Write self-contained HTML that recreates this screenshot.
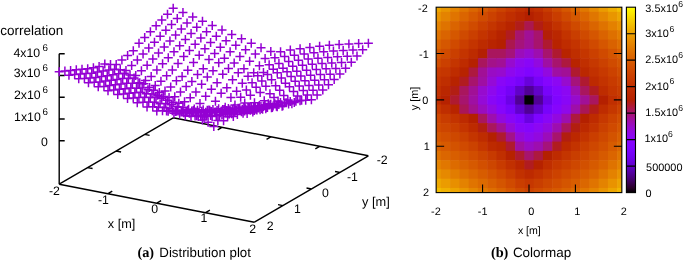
<!DOCTYPE html>
<html><head><meta charset="utf-8"><style>
html,body{margin:0;padding:0;background:#fff;}
svg{display:block;}
#t{position:absolute;left:0;top:0;will-change:transform;text-rendering:geometricPrecision;}
</style></head><body>
<svg width="685" height="260" viewBox="0 0 685 260">
<rect width="685" height="260" fill="#fff"/>
<g><rect x="436.15" y="7.20" width="5.24" height="5.24" fill="#eda600"/>
<rect x="440.79" y="7.20" width="9.89" height="5.24" fill="#e99500"/>
<rect x="450.08" y="7.20" width="9.88" height="5.24" fill="#e58400"/>
<rect x="459.36" y="7.20" width="9.89" height="5.24" fill="#e07500"/>
<rect x="468.65" y="7.20" width="9.89" height="5.24" fill="#db6700"/>
<rect x="477.93" y="7.20" width="9.88" height="5.24" fill="#d65a00"/>
<rect x="487.22" y="7.20" width="9.89" height="5.24" fill="#d14e00"/>
<rect x="496.50" y="7.20" width="9.89" height="5.24" fill="#cc4300"/>
<rect x="505.79" y="7.20" width="9.88" height="5.24" fill="#c73900"/>
<rect x="515.07" y="7.20" width="9.88" height="5.24" fill="#c13000"/>
<rect x="524.36" y="7.20" width="9.89" height="5.24" fill="#bd2a00"/>
<rect x="533.64" y="7.20" width="9.88" height="5.24" fill="#c13000"/>
<rect x="542.93" y="7.20" width="9.88" height="5.24" fill="#c83c00"/>
<rect x="552.21" y="7.20" width="9.88" height="5.24" fill="#cf4a00"/>
<rect x="561.50" y="7.20" width="9.89" height="5.24" fill="#d65800"/>
<rect x="570.78" y="7.20" width="9.88" height="5.24" fill="#dc6800"/>
<rect x="580.07" y="7.20" width="9.88" height="5.24" fill="#e17900"/>
<rect x="589.35" y="7.20" width="9.89" height="5.24" fill="#e68a00"/>
<rect x="598.64" y="7.20" width="9.88" height="5.24" fill="#eb9c00"/>
<rect x="607.92" y="7.20" width="9.88" height="5.24" fill="#efad00"/>
<rect x="617.21" y="7.20" width="4.64" height="5.24" fill="#f3bf00"/>
<rect x="436.15" y="11.84" width="5.24" height="9.87" fill="#e99400"/>
<rect x="440.79" y="11.84" width="9.89" height="9.87" fill="#e48300"/>
<rect x="450.08" y="11.84" width="9.88" height="9.87" fill="#e07400"/>
<rect x="459.36" y="11.84" width="9.89" height="9.87" fill="#db6500"/>
<rect x="468.65" y="11.84" width="9.89" height="9.87" fill="#d65800"/>
<rect x="477.93" y="11.84" width="9.88" height="9.87" fill="#d04c00"/>
<rect x="487.22" y="11.84" width="9.89" height="9.87" fill="#cb4100"/>
<rect x="496.50" y="11.84" width="9.89" height="9.87" fill="#c53700"/>
<rect x="505.79" y="11.84" width="9.88" height="9.87" fill="#c02e00"/>
<rect x="515.07" y="11.84" width="9.88" height="9.87" fill="#ba2700"/>
<rect x="524.36" y="11.84" width="9.89" height="9.87" fill="#b42000"/>
<rect x="533.64" y="11.84" width="9.88" height="9.87" fill="#ba2700"/>
<rect x="542.93" y="11.84" width="9.88" height="9.87" fill="#c13100"/>
<rect x="552.21" y="11.84" width="9.88" height="9.87" fill="#c93d00"/>
<rect x="561.50" y="11.84" width="9.89" height="9.87" fill="#cf4a00"/>
<rect x="570.78" y="11.84" width="9.88" height="9.87" fill="#d55800"/>
<rect x="580.07" y="11.84" width="9.88" height="9.87" fill="#db6600"/>
<rect x="589.35" y="11.84" width="9.89" height="9.87" fill="#e07600"/>
<rect x="598.64" y="11.84" width="9.88" height="9.87" fill="#e58600"/>
<rect x="607.92" y="11.84" width="9.88" height="9.87" fill="#e99600"/>
<rect x="617.21" y="11.84" width="4.64" height="9.87" fill="#eda600"/>
<rect x="436.15" y="21.11" width="5.24" height="9.87" fill="#e48300"/>
<rect x="440.79" y="21.11" width="9.89" height="9.87" fill="#df7300"/>
<rect x="450.08" y="21.11" width="9.88" height="9.87" fill="#da6400"/>
<rect x="459.36" y="21.11" width="9.89" height="9.87" fill="#d55700"/>
<rect x="468.65" y="21.11" width="9.89" height="9.87" fill="#d04b00"/>
<rect x="477.93" y="21.11" width="9.88" height="9.87" fill="#ca3f00"/>
<rect x="487.22" y="21.11" width="9.89" height="9.87" fill="#c43500"/>
<rect x="496.50" y="21.11" width="9.89" height="9.87" fill="#be2c00"/>
<rect x="505.79" y="21.11" width="9.88" height="9.87" fill="#b82400"/>
<rect x="515.07" y="21.11" width="9.88" height="9.87" fill="#b11d1b"/>
<rect x="524.36" y="21.11" width="9.89" height="9.87" fill="#ab174f"/>
<rect x="533.64" y="21.11" width="9.88" height="9.87" fill="#b21d15"/>
<rect x="542.93" y="21.11" width="9.88" height="9.87" fill="#ba2600"/>
<rect x="552.21" y="21.11" width="9.88" height="9.87" fill="#c23200"/>
<rect x="561.50" y="21.11" width="9.89" height="9.87" fill="#c93d00"/>
<rect x="570.78" y="21.11" width="9.88" height="9.87" fill="#cf4a00"/>
<rect x="580.07" y="21.11" width="9.88" height="9.87" fill="#d55700"/>
<rect x="589.35" y="21.11" width="9.89" height="9.87" fill="#da6500"/>
<rect x="598.64" y="21.11" width="9.88" height="9.87" fill="#df7300"/>
<rect x="607.92" y="21.11" width="9.88" height="9.87" fill="#e48100"/>
<rect x="617.21" y="21.11" width="4.64" height="9.87" fill="#e89000"/>
<rect x="436.15" y="30.37" width="5.24" height="9.87" fill="#df7300"/>
<rect x="440.79" y="30.37" width="9.89" height="9.87" fill="#da6400"/>
<rect x="450.08" y="30.37" width="9.88" height="9.87" fill="#d55700"/>
<rect x="459.36" y="30.37" width="9.89" height="9.87" fill="#cf4a00"/>
<rect x="468.65" y="30.37" width="9.89" height="9.87" fill="#ca3f00"/>
<rect x="477.93" y="30.37" width="9.88" height="9.87" fill="#c43400"/>
<rect x="487.22" y="30.37" width="9.89" height="9.87" fill="#be2b00"/>
<rect x="496.50" y="30.37" width="9.89" height="9.87" fill="#b72300"/>
<rect x="505.79" y="30.37" width="9.88" height="9.87" fill="#b11c20"/>
<rect x="515.07" y="30.37" width="9.88" height="9.87" fill="#a7146d"/>
<rect x="524.36" y="30.37" width="9.89" height="9.87" fill="#a11096"/>
<rect x="533.64" y="30.37" width="9.88" height="9.87" fill="#a7146d"/>
<rect x="542.93" y="30.37" width="9.88" height="9.87" fill="#b41f06"/>
<rect x="552.21" y="30.37" width="9.88" height="9.87" fill="#ba2700"/>
<rect x="561.50" y="30.37" width="9.89" height="9.87" fill="#c33300"/>
<rect x="570.78" y="30.37" width="9.88" height="9.87" fill="#c93e00"/>
<rect x="580.07" y="30.37" width="9.88" height="9.87" fill="#cf4a00"/>
<rect x="589.35" y="30.37" width="9.89" height="9.87" fill="#d55600"/>
<rect x="598.64" y="30.37" width="9.88" height="9.87" fill="#da6300"/>
<rect x="607.92" y="30.37" width="9.88" height="9.87" fill="#de7000"/>
<rect x="617.21" y="30.37" width="4.64" height="9.87" fill="#e37d00"/>
<rect x="436.15" y="39.65" width="5.24" height="9.87" fill="#db6500"/>
<rect x="440.79" y="39.65" width="9.89" height="9.87" fill="#d55700"/>
<rect x="450.08" y="39.65" width="9.88" height="9.87" fill="#d04a00"/>
<rect x="459.36" y="39.65" width="9.89" height="9.87" fill="#ca3e00"/>
<rect x="468.65" y="39.65" width="9.89" height="9.87" fill="#c43400"/>
<rect x="477.93" y="39.65" width="9.88" height="9.87" fill="#bd2b00"/>
<rect x="487.22" y="39.65" width="9.89" height="9.87" fill="#b82400"/>
<rect x="496.50" y="39.65" width="9.89" height="9.87" fill="#b42000"/>
<rect x="505.79" y="39.65" width="9.88" height="9.87" fill="#ab174f"/>
<rect x="515.07" y="39.65" width="9.88" height="9.87" fill="#a5137b"/>
<rect x="524.36" y="39.65" width="9.89" height="9.87" fill="#a11096"/>
<rect x="533.64" y="39.65" width="9.88" height="9.87" fill="#a7146d"/>
<rect x="542.93" y="39.65" width="9.88" height="9.87" fill="#af1a30"/>
<rect x="552.21" y="39.65" width="9.88" height="9.87" fill="#b82300"/>
<rect x="561.50" y="39.65" width="9.89" height="9.87" fill="#bf2c00"/>
<rect x="570.78" y="39.65" width="9.88" height="9.87" fill="#c43400"/>
<rect x="580.07" y="39.65" width="9.88" height="9.87" fill="#ca3f00"/>
<rect x="589.35" y="39.65" width="9.89" height="9.87" fill="#d04a00"/>
<rect x="598.64" y="39.65" width="9.88" height="9.87" fill="#d55600"/>
<rect x="607.92" y="39.65" width="9.88" height="9.87" fill="#d96200"/>
<rect x="617.21" y="39.65" width="4.64" height="9.87" fill="#de6e00"/>
<rect x="436.15" y="48.91" width="5.24" height="9.87" fill="#d65800"/>
<rect x="440.79" y="48.91" width="9.89" height="9.87" fill="#d04b00"/>
<rect x="450.08" y="48.91" width="9.88" height="9.87" fill="#ca3f00"/>
<rect x="459.36" y="48.91" width="9.89" height="9.87" fill="#c43400"/>
<rect x="468.65" y="48.91" width="9.89" height="9.87" fill="#bd2b00"/>
<rect x="477.93" y="48.91" width="9.88" height="9.87" fill="#b42002"/>
<rect x="487.22" y="48.91" width="9.89" height="9.87" fill="#a9165e"/>
<rect x="496.50" y="48.91" width="9.89" height="9.87" fill="#a9165e"/>
<rect x="505.79" y="48.91" width="9.88" height="9.87" fill="#a5137b"/>
<rect x="515.07" y="48.91" width="9.88" height="9.87" fill="#9b0dba"/>
<rect x="524.36" y="48.91" width="9.89" height="9.87" fill="#970bce"/>
<rect x="533.64" y="48.91" width="9.88" height="9.87" fill="#9d0eaf"/>
<rect x="542.93" y="48.91" width="9.88" height="9.87" fill="#a7146d"/>
<rect x="552.21" y="48.91" width="9.88" height="9.87" fill="#af1a30"/>
<rect x="561.50" y="48.91" width="9.89" height="9.87" fill="#b82400"/>
<rect x="570.78" y="48.91" width="9.88" height="9.87" fill="#bf2e00"/>
<rect x="580.07" y="48.91" width="9.88" height="9.87" fill="#c53600"/>
<rect x="589.35" y="48.91" width="9.89" height="9.87" fill="#cb4000"/>
<rect x="598.64" y="48.91" width="9.88" height="9.87" fill="#d04a00"/>
<rect x="607.92" y="48.91" width="9.88" height="9.87" fill="#d45500"/>
<rect x="617.21" y="48.91" width="4.64" height="9.87" fill="#d96000"/>
<rect x="436.15" y="58.19" width="5.24" height="9.87" fill="#d14d00"/>
<rect x="440.79" y="58.19" width="9.89" height="9.87" fill="#cb4000"/>
<rect x="450.08" y="58.19" width="9.88" height="9.87" fill="#c43500"/>
<rect x="459.36" y="58.19" width="9.89" height="9.87" fill="#be2b00"/>
<rect x="468.65" y="58.19" width="9.89" height="9.87" fill="#b52100"/>
<rect x="477.93" y="58.19" width="9.88" height="9.87" fill="#a9165e"/>
<rect x="487.22" y="58.19" width="9.89" height="9.87" fill="#a31289"/>
<rect x="496.50" y="58.19" width="9.89" height="9.87" fill="#a11096"/>
<rect x="505.79" y="58.19" width="9.88" height="9.87" fill="#970bce"/>
<rect x="515.07" y="58.19" width="9.88" height="9.87" fill="#8e08ed"/>
<rect x="524.36" y="58.19" width="9.89" height="9.87" fill="#8906f7"/>
<rect x="533.64" y="58.19" width="9.88" height="9.87" fill="#9209df"/>
<rect x="542.93" y="58.19" width="9.88" height="9.87" fill="#9f0fa3"/>
<rect x="552.21" y="58.19" width="9.88" height="9.87" fill="#a7146d"/>
<rect x="561.50" y="58.19" width="9.89" height="9.87" fill="#ad193f"/>
<rect x="570.78" y="58.19" width="9.88" height="9.87" fill="#b82400"/>
<rect x="580.07" y="58.19" width="9.88" height="9.87" fill="#c02f00"/>
<rect x="589.35" y="58.19" width="9.89" height="9.87" fill="#c63800"/>
<rect x="598.64" y="58.19" width="9.88" height="9.87" fill="#cb4100"/>
<rect x="607.92" y="58.19" width="9.88" height="9.87" fill="#d04b00"/>
<rect x="617.21" y="58.19" width="4.64" height="9.87" fill="#d45500"/>
<rect x="436.15" y="67.45" width="5.24" height="9.87" fill="#c83b00"/>
<rect x="440.79" y="67.45" width="9.89" height="9.87" fill="#c53600"/>
<rect x="450.08" y="67.45" width="9.88" height="9.87" fill="#be2c00"/>
<rect x="459.36" y="67.45" width="9.89" height="9.87" fill="#b72300"/>
<rect x="468.65" y="67.45" width="9.89" height="9.87" fill="#ad193f"/>
<rect x="477.93" y="67.45" width="9.88" height="9.87" fill="#a11096"/>
<rect x="487.22" y="67.45" width="9.89" height="9.87" fill="#990cc4"/>
<rect x="496.50" y="67.45" width="9.89" height="9.87" fill="#970bce"/>
<rect x="505.79" y="67.45" width="9.88" height="9.87" fill="#8e08ed"/>
<rect x="515.07" y="67.45" width="9.88" height="9.87" fill="#8706fa"/>
<rect x="524.36" y="67.45" width="9.89" height="9.87" fill="#8004ff"/>
<rect x="533.64" y="67.45" width="9.88" height="9.87" fill="#8706fa"/>
<rect x="542.93" y="67.45" width="9.88" height="9.87" fill="#9209df"/>
<rect x="552.21" y="67.45" width="9.88" height="9.87" fill="#9f0fa3"/>
<rect x="561.50" y="67.45" width="9.89" height="9.87" fill="#a11096"/>
<rect x="570.78" y="67.45" width="9.88" height="9.87" fill="#af1a30"/>
<rect x="580.07" y="67.45" width="9.88" height="9.87" fill="#bb2800"/>
<rect x="589.35" y="67.45" width="9.89" height="9.87" fill="#c23100"/>
<rect x="598.64" y="67.45" width="9.88" height="9.87" fill="#c73900"/>
<rect x="607.92" y="67.45" width="9.88" height="9.87" fill="#cc4200"/>
<rect x="617.21" y="67.45" width="4.64" height="9.87" fill="#d04c00"/>
<rect x="436.15" y="76.72" width="5.24" height="9.87" fill="#c53600"/>
<rect x="440.79" y="76.72" width="9.89" height="9.87" fill="#bf2e00"/>
<rect x="450.08" y="76.72" width="9.88" height="9.87" fill="#b72300"/>
<rect x="459.36" y="76.72" width="9.89" height="9.87" fill="#b11c20"/>
<rect x="468.65" y="76.72" width="9.89" height="9.87" fill="#a7146d"/>
<rect x="477.93" y="76.72" width="9.88" height="9.87" fill="#9f0fa3"/>
<rect x="487.22" y="76.72" width="9.89" height="9.87" fill="#950ad7"/>
<rect x="496.50" y="76.72" width="9.89" height="9.87" fill="#8906f7"/>
<rect x="505.79" y="76.72" width="9.88" height="9.87" fill="#8204fe"/>
<rect x="515.07" y="76.72" width="9.88" height="9.87" fill="#7803fa"/>
<rect x="524.36" y="76.72" width="9.89" height="9.87" fill="#6801db"/>
<rect x="533.64" y="76.72" width="9.88" height="9.87" fill="#7803fa"/>
<rect x="542.93" y="76.72" width="9.88" height="9.87" fill="#8505fd"/>
<rect x="552.21" y="76.72" width="9.88" height="9.87" fill="#8c07f3"/>
<rect x="561.50" y="76.72" width="9.89" height="9.87" fill="#970bce"/>
<rect x="570.78" y="76.72" width="9.88" height="9.87" fill="#a5137b"/>
<rect x="580.07" y="76.72" width="9.88" height="9.87" fill="#af1a30"/>
<rect x="589.35" y="76.72" width="9.89" height="9.87" fill="#bd2a00"/>
<rect x="598.64" y="76.72" width="9.88" height="9.87" fill="#c33300"/>
<rect x="607.92" y="76.72" width="9.88" height="9.87" fill="#c83b00"/>
<rect x="617.21" y="76.72" width="4.64" height="9.87" fill="#cc4400"/>
<rect x="436.15" y="86.00" width="5.24" height="9.87" fill="#c23200"/>
<rect x="440.79" y="86.00" width="9.89" height="9.87" fill="#ba2700"/>
<rect x="450.08" y="86.00" width="9.88" height="9.87" fill="#b21e13"/>
<rect x="459.36" y="86.00" width="9.89" height="9.87" fill="#a9165e"/>
<rect x="468.65" y="86.00" width="9.89" height="9.87" fill="#a11096"/>
<rect x="477.93" y="86.00" width="9.88" height="9.87" fill="#970bce"/>
<rect x="487.22" y="86.00" width="9.89" height="9.87" fill="#8e08ed"/>
<rect x="496.50" y="86.00" width="9.89" height="9.87" fill="#8204fe"/>
<rect x="505.79" y="86.00" width="9.88" height="9.87" fill="#7502f7"/>
<rect x="515.07" y="86.00" width="9.88" height="9.87" fill="#6101c9"/>
<rect x="524.36" y="86.00" width="9.89" height="9.87" fill="#510096"/>
<rect x="533.64" y="86.00" width="9.88" height="9.87" fill="#6101c9"/>
<rect x="542.93" y="86.00" width="9.88" height="9.87" fill="#7803fa"/>
<rect x="552.21" y="86.00" width="9.88" height="9.87" fill="#8505fd"/>
<rect x="561.50" y="86.00" width="9.89" height="9.87" fill="#8c07f3"/>
<rect x="570.78" y="86.00" width="9.88" height="9.87" fill="#9d0eaf"/>
<rect x="580.07" y="86.00" width="9.88" height="9.87" fill="#a9165e"/>
<rect x="589.35" y="86.00" width="9.89" height="9.87" fill="#b11c20"/>
<rect x="598.64" y="86.00" width="9.88" height="9.87" fill="#be2c00"/>
<rect x="607.92" y="86.00" width="9.88" height="9.87" fill="#c53600"/>
<rect x="617.21" y="86.00" width="4.64" height="9.87" fill="#c93d00"/>
<rect x="436.15" y="95.27" width="5.24" height="9.87" fill="#c02e00"/>
<rect x="440.79" y="95.27" width="9.89" height="9.87" fill="#b62200"/>
<rect x="450.08" y="95.27" width="9.88" height="9.87" fill="#af1a30"/>
<rect x="459.36" y="95.27" width="9.89" height="9.87" fill="#a7146d"/>
<rect x="468.65" y="95.27" width="9.89" height="9.87" fill="#9f0fa3"/>
<rect x="477.93" y="95.27" width="9.88" height="9.87" fill="#950ad7"/>
<rect x="487.22" y="95.27" width="9.89" height="9.87" fill="#8906f7"/>
<rect x="496.50" y="95.27" width="9.89" height="9.87" fill="#8004ff"/>
<rect x="505.79" y="95.27" width="9.88" height="9.87" fill="#6c01e7"/>
<rect x="515.07" y="95.27" width="9.88" height="9.87" fill="#510096"/>
<rect x="524.36" y="95.27" width="9.89" height="9.87" fill="#000000"/>
<rect x="533.64" y="95.27" width="9.88" height="9.87" fill="#510096"/>
<rect x="542.93" y="95.27" width="9.88" height="9.87" fill="#6c01e7"/>
<rect x="552.21" y="95.27" width="9.88" height="9.87" fill="#8004ff"/>
<rect x="561.50" y="95.27" width="9.89" height="9.87" fill="#8906f7"/>
<rect x="570.78" y="95.27" width="9.88" height="9.87" fill="#970bce"/>
<rect x="580.07" y="95.27" width="9.88" height="9.87" fill="#a11096"/>
<rect x="589.35" y="95.27" width="9.89" height="9.87" fill="#a9165e"/>
<rect x="598.64" y="95.27" width="9.88" height="9.87" fill="#b42000"/>
<rect x="607.92" y="95.27" width="9.88" height="9.87" fill="#c12f00"/>
<rect x="617.21" y="95.27" width="4.64" height="9.87" fill="#c63700"/>
<rect x="436.15" y="104.53" width="5.24" height="9.87" fill="#c73a00"/>
<rect x="440.79" y="104.53" width="9.89" height="9.87" fill="#bf2e00"/>
<rect x="450.08" y="104.53" width="9.88" height="9.87" fill="#b82400"/>
<rect x="459.36" y="104.53" width="9.89" height="9.87" fill="#aa1656"/>
<rect x="468.65" y="104.53" width="9.89" height="9.87" fill="#a2118f"/>
<rect x="477.93" y="104.53" width="9.88" height="9.87" fill="#9a0cbf"/>
<rect x="487.22" y="104.53" width="9.89" height="9.87" fill="#9109e3"/>
<rect x="496.50" y="104.53" width="9.89" height="9.87" fill="#8605fc"/>
<rect x="505.79" y="104.53" width="9.88" height="9.87" fill="#7803fb"/>
<rect x="515.07" y="104.53" width="9.88" height="9.87" fill="#6201cd"/>
<rect x="524.36" y="104.53" width="9.89" height="9.87" fill="#510096"/>
<rect x="533.64" y="104.53" width="9.88" height="9.87" fill="#6201cd"/>
<rect x="542.93" y="104.53" width="9.88" height="9.87" fill="#7803fb"/>
<rect x="552.21" y="104.53" width="9.88" height="9.87" fill="#8605fc"/>
<rect x="561.50" y="104.53" width="9.89" height="9.87" fill="#8f08ea"/>
<rect x="570.78" y="104.53" width="9.88" height="9.87" fill="#9e0fa9"/>
<rect x="580.07" y="104.53" width="9.88" height="9.87" fill="#aa1656"/>
<rect x="589.35" y="104.53" width="9.89" height="9.87" fill="#b21d18"/>
<rect x="598.64" y="104.53" width="9.88" height="9.87" fill="#be2c00"/>
<rect x="607.92" y="104.53" width="9.88" height="9.87" fill="#c53700"/>
<rect x="617.21" y="104.53" width="4.64" height="9.87" fill="#cc4200"/>
<rect x="436.15" y="113.80" width="5.24" height="9.87" fill="#cf4800"/>
<rect x="440.79" y="113.80" width="9.89" height="9.87" fill="#c83c00"/>
<rect x="450.08" y="113.80" width="9.88" height="9.87" fill="#c33300"/>
<rect x="459.36" y="113.80" width="9.89" height="9.87" fill="#bd2a00"/>
<rect x="468.65" y="113.80" width="9.89" height="9.87" fill="#b42000"/>
<rect x="477.93" y="113.80" width="9.88" height="9.87" fill="#a9165e"/>
<rect x="487.22" y="113.80" width="9.89" height="9.87" fill="#9d0eaf"/>
<rect x="496.50" y="113.80" width="9.89" height="9.87" fill="#9209df"/>
<rect x="505.79" y="113.80" width="9.88" height="9.87" fill="#8906f7"/>
<rect x="515.07" y="113.80" width="9.88" height="9.87" fill="#7e04ff"/>
<rect x="524.36" y="113.80" width="9.89" height="9.87" fill="#6a01e1"/>
<rect x="533.64" y="113.80" width="9.88" height="9.87" fill="#7e04ff"/>
<rect x="542.93" y="113.80" width="9.88" height="9.87" fill="#8906f7"/>
<rect x="552.21" y="113.80" width="9.88" height="9.87" fill="#9209df"/>
<rect x="561.50" y="113.80" width="9.89" height="9.87" fill="#9d0eaf"/>
<rect x="570.78" y="113.80" width="9.88" height="9.87" fill="#ad193f"/>
<rect x="580.07" y="113.80" width="9.88" height="9.87" fill="#b42000"/>
<rect x="589.35" y="113.80" width="9.89" height="9.87" fill="#be2b00"/>
<rect x="598.64" y="113.80" width="9.88" height="9.87" fill="#c63800"/>
<rect x="607.92" y="113.80" width="9.88" height="9.87" fill="#cc4300"/>
<rect x="617.21" y="113.80" width="4.64" height="9.87" fill="#d14e00"/>
<rect x="436.15" y="123.08" width="5.24" height="9.87" fill="#d14c00"/>
<rect x="440.79" y="123.08" width="9.89" height="9.87" fill="#cd4500"/>
<rect x="450.08" y="123.08" width="9.88" height="9.87" fill="#c93e00"/>
<rect x="459.36" y="123.08" width="9.89" height="9.87" fill="#c43400"/>
<rect x="468.65" y="123.08" width="9.89" height="9.87" fill="#bd2a00"/>
<rect x="477.93" y="123.08" width="9.88" height="9.87" fill="#b21e10"/>
<rect x="487.22" y="123.08" width="9.89" height="9.87" fill="#a9165e"/>
<rect x="496.50" y="123.08" width="9.89" height="9.87" fill="#a11096"/>
<rect x="505.79" y="123.08" width="9.88" height="9.87" fill="#950ad7"/>
<rect x="515.07" y="123.08" width="9.88" height="9.87" fill="#8906f7"/>
<rect x="524.36" y="123.08" width="9.89" height="9.87" fill="#8505fc"/>
<rect x="533.64" y="123.08" width="9.88" height="9.87" fill="#8c07f3"/>
<rect x="542.93" y="123.08" width="9.88" height="9.87" fill="#9209df"/>
<rect x="552.21" y="123.08" width="9.88" height="9.87" fill="#9d0eaf"/>
<rect x="561.50" y="123.08" width="9.89" height="9.87" fill="#a9165e"/>
<rect x="570.78" y="123.08" width="9.88" height="9.87" fill="#b21e10"/>
<rect x="580.07" y="123.08" width="9.88" height="9.87" fill="#bc2900"/>
<rect x="589.35" y="123.08" width="9.89" height="9.87" fill="#c33300"/>
<rect x="598.64" y="123.08" width="9.88" height="9.87" fill="#ca4000"/>
<rect x="607.92" y="123.08" width="9.88" height="9.87" fill="#d04a00"/>
<rect x="617.21" y="123.08" width="4.64" height="9.87" fill="#d55600"/>
<rect x="436.15" y="132.34" width="5.24" height="9.87" fill="#d55700"/>
<rect x="440.79" y="132.34" width="9.89" height="9.87" fill="#d24f00"/>
<rect x="450.08" y="132.34" width="9.88" height="9.87" fill="#ce4800"/>
<rect x="459.36" y="132.34" width="9.89" height="9.87" fill="#ca4000"/>
<rect x="468.65" y="132.34" width="9.89" height="9.87" fill="#c43500"/>
<rect x="477.93" y="132.34" width="9.88" height="9.87" fill="#be2c00"/>
<rect x="487.22" y="132.34" width="9.89" height="9.87" fill="#b42000"/>
<rect x="496.50" y="132.34" width="9.89" height="9.87" fill="#af1a30"/>
<rect x="505.79" y="132.34" width="9.88" height="9.87" fill="#a31289"/>
<rect x="515.07" y="132.34" width="9.88" height="9.87" fill="#950ad7"/>
<rect x="524.36" y="132.34" width="9.89" height="9.87" fill="#8e08ed"/>
<rect x="533.64" y="132.34" width="9.88" height="9.87" fill="#9209df"/>
<rect x="542.93" y="132.34" width="9.88" height="9.87" fill="#9b0dba"/>
<rect x="552.21" y="132.34" width="9.88" height="9.87" fill="#a7146d"/>
<rect x="561.50" y="132.34" width="9.89" height="9.87" fill="#b21e10"/>
<rect x="570.78" y="132.34" width="9.88" height="9.87" fill="#bc2800"/>
<rect x="580.07" y="132.34" width="9.88" height="9.87" fill="#c33300"/>
<rect x="589.35" y="132.34" width="9.89" height="9.87" fill="#ca3e00"/>
<rect x="598.64" y="132.34" width="9.88" height="9.87" fill="#ce4800"/>
<rect x="607.92" y="132.34" width="9.88" height="9.87" fill="#d35300"/>
<rect x="617.21" y="132.34" width="4.64" height="9.87" fill="#d85f00"/>
<rect x="436.15" y="141.61" width="5.24" height="9.87" fill="#d96200"/>
<rect x="440.79" y="141.61" width="9.89" height="9.87" fill="#d75a00"/>
<rect x="450.08" y="141.61" width="9.88" height="9.87" fill="#d35200"/>
<rect x="459.36" y="141.61" width="9.89" height="9.87" fill="#d04a00"/>
<rect x="468.65" y="141.61" width="9.89" height="9.87" fill="#cb4200"/>
<rect x="477.93" y="141.61" width="9.88" height="9.87" fill="#c53600"/>
<rect x="487.22" y="141.61" width="9.89" height="9.87" fill="#bd2a00"/>
<rect x="496.50" y="141.61" width="9.89" height="9.87" fill="#ba2600"/>
<rect x="505.79" y="141.61" width="9.88" height="9.87" fill="#af1a30"/>
<rect x="515.07" y="141.61" width="9.88" height="9.87" fill="#9f0fa3"/>
<rect x="524.36" y="141.61" width="9.89" height="9.87" fill="#990cc4"/>
<rect x="533.64" y="141.61" width="9.88" height="9.87" fill="#9d0eaf"/>
<rect x="542.93" y="141.61" width="9.88" height="9.87" fill="#a5137b"/>
<rect x="552.21" y="141.61" width="9.88" height="9.87" fill="#b11c20"/>
<rect x="561.50" y="141.61" width="9.89" height="9.87" fill="#bc2900"/>
<rect x="570.78" y="141.61" width="9.88" height="9.87" fill="#c33300"/>
<rect x="580.07" y="141.61" width="9.88" height="9.87" fill="#c93e00"/>
<rect x="589.35" y="141.61" width="9.89" height="9.87" fill="#ce4700"/>
<rect x="598.64" y="141.61" width="9.88" height="9.87" fill="#d25000"/>
<rect x="607.92" y="141.61" width="9.88" height="9.87" fill="#d75c00"/>
<rect x="617.21" y="141.61" width="4.64" height="9.87" fill="#db6800"/>
<rect x="436.15" y="150.88" width="5.24" height="9.87" fill="#df7200"/>
<rect x="440.79" y="150.88" width="9.89" height="9.87" fill="#db6600"/>
<rect x="450.08" y="150.88" width="9.88" height="9.87" fill="#d85e00"/>
<rect x="459.36" y="150.88" width="9.89" height="9.87" fill="#d55600"/>
<rect x="468.65" y="150.88" width="9.89" height="9.87" fill="#d14d00"/>
<rect x="477.93" y="150.88" width="9.88" height="9.87" fill="#cc4400"/>
<rect x="487.22" y="150.88" width="9.89" height="9.87" fill="#c73a00"/>
<rect x="496.50" y="150.88" width="9.89" height="9.87" fill="#c02f00"/>
<rect x="505.79" y="150.88" width="9.88" height="9.87" fill="#b62200"/>
<rect x="515.07" y="150.88" width="9.88" height="9.87" fill="#af1a30"/>
<rect x="524.36" y="150.88" width="9.89" height="9.87" fill="#a7146d"/>
<rect x="533.64" y="150.88" width="9.88" height="9.87" fill="#ad193f"/>
<rect x="542.93" y="150.88" width="9.88" height="9.87" fill="#b42000"/>
<rect x="552.21" y="150.88" width="9.88" height="9.87" fill="#be2b00"/>
<rect x="561.50" y="150.88" width="9.89" height="9.87" fill="#c43500"/>
<rect x="570.78" y="150.88" width="9.88" height="9.87" fill="#c93e00"/>
<rect x="580.07" y="150.88" width="9.88" height="9.87" fill="#ce4600"/>
<rect x="589.35" y="150.88" width="9.89" height="9.87" fill="#d25000"/>
<rect x="598.64" y="150.88" width="9.88" height="9.87" fill="#d65a00"/>
<rect x="607.92" y="150.88" width="9.88" height="9.87" fill="#db6500"/>
<rect x="617.21" y="150.88" width="4.64" height="9.87" fill="#e07500"/>
<rect x="436.15" y="160.15" width="5.24" height="9.87" fill="#e48300"/>
<rect x="440.79" y="160.15" width="9.89" height="9.87" fill="#e17700"/>
<rect x="450.08" y="160.15" width="9.88" height="9.87" fill="#dd6b00"/>
<rect x="459.36" y="160.15" width="9.89" height="9.87" fill="#d96200"/>
<rect x="468.65" y="160.15" width="9.89" height="9.87" fill="#d65900"/>
<rect x="477.93" y="160.15" width="9.88" height="9.87" fill="#d24f00"/>
<rect x="487.22" y="160.15" width="9.89" height="9.87" fill="#cd4600"/>
<rect x="496.50" y="160.15" width="9.89" height="9.87" fill="#c83b00"/>
<rect x="505.79" y="160.15" width="9.88" height="9.87" fill="#c13000"/>
<rect x="515.07" y="160.15" width="9.88" height="9.87" fill="#ba2600"/>
<rect x="524.36" y="160.15" width="9.89" height="9.87" fill="#b11c20"/>
<rect x="533.64" y="160.15" width="9.88" height="9.87" fill="#b62200"/>
<rect x="542.93" y="160.15" width="9.88" height="9.87" fill="#c02e00"/>
<rect x="552.21" y="160.15" width="9.88" height="9.87" fill="#c63800"/>
<rect x="561.50" y="160.15" width="9.89" height="9.87" fill="#ca3f00"/>
<rect x="570.78" y="160.15" width="9.88" height="9.87" fill="#ce4700"/>
<rect x="580.07" y="160.15" width="9.88" height="9.87" fill="#d25000"/>
<rect x="589.35" y="160.15" width="9.89" height="9.87" fill="#d65a00"/>
<rect x="598.64" y="160.15" width="9.88" height="9.87" fill="#da6400"/>
<rect x="607.92" y="160.15" width="9.88" height="9.87" fill="#df7300"/>
<rect x="617.21" y="160.15" width="4.64" height="9.87" fill="#e48300"/>
<rect x="436.15" y="169.42" width="5.24" height="9.87" fill="#e99500"/>
<rect x="440.79" y="169.42" width="9.89" height="9.87" fill="#e68900"/>
<rect x="450.08" y="169.42" width="9.88" height="9.87" fill="#e27c00"/>
<rect x="459.36" y="169.42" width="9.89" height="9.87" fill="#de7000"/>
<rect x="468.65" y="169.42" width="9.89" height="9.87" fill="#db6600"/>
<rect x="477.93" y="169.42" width="9.88" height="9.87" fill="#d75c00"/>
<rect x="487.22" y="169.42" width="9.89" height="9.87" fill="#d35200"/>
<rect x="496.50" y="169.42" width="9.89" height="9.87" fill="#cf4800"/>
<rect x="505.79" y="169.42" width="9.88" height="9.87" fill="#c93d00"/>
<rect x="515.07" y="169.42" width="9.88" height="9.87" fill="#c23100"/>
<rect x="524.36" y="169.42" width="9.89" height="9.87" fill="#bd2a00"/>
<rect x="533.64" y="169.42" width="9.88" height="9.87" fill="#c23100"/>
<rect x="542.93" y="169.42" width="9.88" height="9.87" fill="#c73a00"/>
<rect x="552.21" y="169.42" width="9.88" height="9.87" fill="#cc4200"/>
<rect x="561.50" y="169.42" width="9.89" height="9.87" fill="#cf4a00"/>
<rect x="570.78" y="169.42" width="9.88" height="9.87" fill="#d35200"/>
<rect x="580.07" y="169.42" width="9.88" height="9.87" fill="#d75b00"/>
<rect x="589.35" y="169.42" width="9.89" height="9.87" fill="#da6500"/>
<rect x="598.64" y="169.42" width="9.88" height="9.87" fill="#df7300"/>
<rect x="607.92" y="169.42" width="9.88" height="9.87" fill="#e48200"/>
<rect x="617.21" y="169.42" width="4.64" height="9.87" fill="#e99300"/>
<rect x="436.15" y="178.69" width="5.24" height="9.87" fill="#eea900"/>
<rect x="440.79" y="178.69" width="9.89" height="9.87" fill="#eb9c00"/>
<rect x="450.08" y="178.69" width="9.88" height="9.87" fill="#e88f00"/>
<rect x="459.36" y="178.69" width="9.89" height="9.87" fill="#e48200"/>
<rect x="468.65" y="178.69" width="9.89" height="9.87" fill="#e07400"/>
<rect x="477.93" y="178.69" width="9.88" height="9.87" fill="#dc6a00"/>
<rect x="487.22" y="178.69" width="9.89" height="9.87" fill="#d85f00"/>
<rect x="496.50" y="178.69" width="9.89" height="9.87" fill="#d45500"/>
<rect x="505.79" y="178.69" width="9.88" height="9.87" fill="#d04a00"/>
<rect x="515.07" y="178.69" width="9.88" height="9.87" fill="#ca3e00"/>
<rect x="524.36" y="178.69" width="9.89" height="9.87" fill="#c63700"/>
<rect x="533.64" y="178.69" width="9.88" height="9.87" fill="#c93e00"/>
<rect x="542.93" y="178.69" width="9.88" height="9.87" fill="#cd4600"/>
<rect x="552.21" y="178.69" width="9.88" height="9.87" fill="#d14d00"/>
<rect x="561.50" y="178.69" width="9.89" height="9.87" fill="#d45500"/>
<rect x="570.78" y="178.69" width="9.88" height="9.87" fill="#d85d00"/>
<rect x="580.07" y="178.69" width="9.88" height="9.87" fill="#db6700"/>
<rect x="589.35" y="178.69" width="9.89" height="9.87" fill="#e07400"/>
<rect x="598.64" y="178.69" width="9.88" height="9.87" fill="#e48300"/>
<rect x="607.92" y="178.69" width="9.88" height="9.87" fill="#e99300"/>
<rect x="617.21" y="178.69" width="4.64" height="9.87" fill="#eda400"/>
<rect x="436.15" y="187.96" width="5.24" height="4.64" fill="#f3be00"/>
<rect x="440.79" y="187.96" width="9.89" height="4.64" fill="#f0b100"/>
<rect x="450.08" y="187.96" width="9.88" height="4.64" fill="#eda400"/>
<rect x="459.36" y="187.96" width="9.89" height="4.64" fill="#e99600"/>
<rect x="468.65" y="187.96" width="9.89" height="4.64" fill="#e58700"/>
<rect x="477.93" y="187.96" width="9.88" height="4.64" fill="#e17900"/>
<rect x="487.22" y="187.96" width="9.89" height="4.64" fill="#de6e00"/>
<rect x="496.50" y="187.96" width="9.89" height="4.64" fill="#da6300"/>
<rect x="505.79" y="187.96" width="9.88" height="4.64" fill="#d55700"/>
<rect x="515.07" y="187.96" width="9.88" height="4.64" fill="#d04c00"/>
<rect x="524.36" y="187.96" width="9.89" height="4.64" fill="#cc4300"/>
<rect x="533.64" y="187.96" width="9.88" height="4.64" fill="#d04b00"/>
<rect x="542.93" y="187.96" width="9.88" height="4.64" fill="#d35200"/>
<rect x="552.21" y="187.96" width="9.88" height="4.64" fill="#d65900"/>
<rect x="561.50" y="187.96" width="9.89" height="4.64" fill="#d96200"/>
<rect x="570.78" y="187.96" width="9.88" height="4.64" fill="#dc6a00"/>
<rect x="580.07" y="187.96" width="9.88" height="4.64" fill="#e17700"/>
<rect x="589.35" y="187.96" width="9.89" height="4.64" fill="#e58500"/>
<rect x="598.64" y="187.96" width="9.88" height="4.64" fill="#e99400"/>
<rect x="607.92" y="187.96" width="9.88" height="4.64" fill="#eda500"/>
<rect x="617.21" y="187.96" width="4.64" height="4.64" fill="#f1b700"/></g>
<g><defs><linearGradient id="cbg" x1="0" y1="0" x2="0" y2="1"><stop offset="0.0000" stop-color="#ffff00"/><stop offset="0.0250" stop-color="#fcec00"/><stop offset="0.0500" stop-color="#f9db00"/><stop offset="0.0750" stop-color="#f5ca00"/><stop offset="0.1000" stop-color="#f2ba00"/><stop offset="0.1250" stop-color="#efab00"/><stop offset="0.1500" stop-color="#eb9d00"/><stop offset="0.1750" stop-color="#e88f00"/><stop offset="0.2000" stop-color="#e48300"/><stop offset="0.2250" stop-color="#e07700"/><stop offset="0.2500" stop-color="#dd6c00"/><stop offset="0.2750" stop-color="#d96100"/><stop offset="0.3000" stop-color="#d55700"/><stop offset="0.3250" stop-color="#d24e00"/><stop offset="0.3500" stop-color="#ce4600"/><stop offset="0.3750" stop-color="#ca3e00"/><stop offset="0.4000" stop-color="#c63700"/><stop offset="0.4250" stop-color="#c13000"/><stop offset="0.4500" stop-color="#bd2a00"/><stop offset="0.4750" stop-color="#b92500"/><stop offset="0.5000" stop-color="#b42000"/><stop offset="0.5250" stop-color="#b01b28"/><stop offset="0.5500" stop-color="#ab174f"/><stop offset="0.5750" stop-color="#a61474"/><stop offset="0.6000" stop-color="#a11096"/><stop offset="0.6250" stop-color="#9c0db4"/><stop offset="0.6500" stop-color="#970bce"/><stop offset="0.6750" stop-color="#9109e3"/><stop offset="0.7000" stop-color="#8c07f3"/><stop offset="0.7250" stop-color="#8605fc"/><stop offset="0.7500" stop-color="#8004ff"/><stop offset="0.7750" stop-color="#7903fc"/><stop offset="0.8000" stop-color="#7202f3"/><stop offset="0.8250" stop-color="#6b01e3"/><stop offset="0.8500" stop-color="#6301ce"/><stop offset="0.8750" stop-color="#5a00b4"/><stop offset="0.9000" stop-color="#510096"/><stop offset="0.9250" stop-color="#460074"/><stop offset="0.9500" stop-color="#39004f"/><stop offset="0.9750" stop-color="#280028"/><stop offset="1.0000" stop-color="#000000"/></linearGradient></defs>
<rect x="626.40" y="7.20" width="9.10" height="185.40" fill="url(#cbg)"/></g>
<rect x="436.15" y="7.20" width="185.70" height="185.40" fill="none" stroke="#000" stroke-width="1.1"/>
<rect x="626.40" y="7.20" width="9.10" height="185.40" fill="none" stroke="#000" stroke-width="1.1"/>
<path d="M482.57 192.60v-8.00M482.57 7.20v8.00M436.15 53.55h8.00M621.85 53.55h-8.00M529.00 192.60v-8.00M529.00 7.20v8.00M436.15 99.90h8.00M621.85 99.90h-8.00M575.42 192.60v-8.00M575.42 7.20v8.00M436.15 146.25h8.00M621.85 146.25h-8.00M626.40 166.11H635.50M626.40 139.63H635.50M626.40 113.14H635.50M626.40 86.66H635.50M626.40 60.17H635.50M626.40 33.69H635.50" fill="none" stroke="#000" stroke-width="1.1"/>
<path d="M59.20 184.20L254.40 222.20M254.40 222.20L368.40 155.80M368.40 155.80L173.20 117.80M173.20 117.80L59.20 184.20M59.20 184.20L59.20 53.70M59.20 140.70h5.5M59.20 118.95h5.5M59.20 97.20h5.5M59.20 75.45h5.5M59.20 53.70h5.5M108.00 193.70L112.28 191.21M222.00 127.30L217.72 129.79M156.80 203.20L161.08 200.71M270.80 136.80L266.53 139.29M205.60 212.70L209.88 210.21M319.60 146.30L315.33 148.79M339.90 172.40L335.02 171.45M144.70 134.40L149.58 135.35M311.40 189.00L306.52 188.05M116.20 151.00L121.08 151.95M282.90 205.60L278.02 204.65M87.70 167.60L92.58 168.55" fill="none" stroke="#000" stroke-width="1.4" stroke-linecap="butt"/>
<path d="M168.70 8.34h9M173.20 3.84v9M178.46 12.62h9M182.96 8.12v9M188.22 16.92h9M192.72 12.42v9M197.98 21.25h9M202.48 16.75v9M207.74 25.60h9M212.24 21.10v9M217.50 29.98h9M222.00 25.48v9M227.26 34.38h9M231.76 29.88v9M237.02 38.81h9M241.52 34.31v9M246.78 43.26h9M251.28 38.76v9M256.54 47.74h9M261.04 43.24v9M266.30 51.43h9M270.80 46.93v9M276.06 51.70h9M280.56 47.20v9M285.82 50.11h9M290.32 45.61v9M295.58 48.69h9M300.08 44.19v9M305.34 47.42h9M309.84 42.92v9M315.10 46.31h9M319.60 41.81v9M324.86 45.36h9M329.36 40.86v9M334.62 44.57h9M339.12 40.07v9M344.38 43.93h9M348.88 39.43v9M354.14 43.45h9M358.64 38.95v9M363.90 43.13h9M368.40 38.63v9M163.00 14.16h9M167.50 9.66v9M172.76 18.54h9M177.26 14.04v9M182.52 22.94h9M187.02 18.44v9M192.28 27.36h9M196.78 22.86v9M202.04 31.81h9M206.54 27.31v9M211.80 36.28h9M216.30 31.78v9M221.56 40.78h9M226.06 36.28v9M231.32 45.30h9M235.82 40.80v9M241.08 49.85h9M245.58 45.35v9M250.84 54.10h9M255.34 49.60v9M260.60 58.56h9M265.10 54.06v9M270.36 57.86h9M274.86 53.36v9M280.12 56.59h9M284.62 52.09v9M289.88 55.17h9M294.38 50.67v9M299.64 53.92h9M304.14 49.42v9M309.40 52.82h9M313.90 48.32v9M319.16 51.87h9M323.66 47.37v9M328.92 51.09h9M333.42 46.59v9M338.68 50.46h9M343.18 45.96v9M348.44 49.99h9M352.94 45.49v9M358.20 49.68h9M362.70 45.18v9M157.30 19.99h9M161.80 15.49v9M167.06 24.46h9M171.56 19.96v9M176.82 28.95h9M181.32 24.45v9M186.58 33.47h9M191.08 28.97v9M196.34 38.01h9M200.84 33.51v9M206.10 42.58h9M210.60 38.08v9M215.86 47.17h9M220.36 42.67v9M225.62 51.79h9M230.12 47.29v9M235.38 56.48h9M239.88 51.98v9M245.14 61.26h9M249.64 56.76v9M254.90 65.68h9M259.40 61.18v9M264.66 64.78h9M269.16 60.28v9M274.42 63.38h9M278.92 58.88v9M284.18 61.46h9M288.68 56.96v9M293.94 60.21h9M298.44 55.71v9M303.70 59.12h9M308.20 54.62v9M313.46 58.19h9M317.96 53.69v9M323.22 57.41h9M327.72 52.91v9M332.98 56.79h9M337.48 52.29v9M342.74 56.33h9M347.24 51.83v9M352.50 56.03h9M357.00 51.53v9M151.60 25.81h9M156.10 21.31v9M161.36 30.37h9M165.86 25.87v9M171.12 34.96h9M175.62 30.46v9M180.88 39.58h9M185.38 35.08v9M190.64 44.21h9M195.14 39.71v9M200.40 48.87h9M204.90 44.37v9M210.16 53.56h9M214.66 49.06v9M219.92 58.15h9M224.42 53.65v9M229.68 62.92h9M234.18 58.42v9M239.44 68.63h9M243.94 64.13v9M249.20 72.81h9M253.70 68.31v9M258.96 72.43h9M263.46 67.93v9M268.72 69.28h9M273.22 64.78v9M278.48 68.28h9M282.98 63.78v9M288.24 66.31h9M292.74 61.81v9M298.00 65.23h9M302.50 60.73v9M307.76 64.30h9M312.26 59.80v9M317.52 63.53h9M322.02 59.03v9M327.28 62.92h9M331.78 58.42v9M337.04 62.47h9M341.54 57.97v9M346.80 62.17h9M351.30 57.67v9M145.90 31.63h9M150.40 27.13v9M155.66 36.29h9M160.16 31.79v9M165.42 40.97h9M169.92 36.47v9M175.18 45.68h9M179.68 41.18v9M184.94 50.41h9M189.44 45.91v9M194.70 55.17h9M199.20 50.67v9M204.46 59.42h9M208.96 54.92v9M214.22 62.82h9M218.72 58.32v9M223.98 68.52h9M228.48 64.02v9M233.74 72.71h9M238.24 68.21v9M243.50 76.13h9M248.00 71.63v9M253.26 75.75h9M257.76 71.25v9M263.02 74.60h9M267.52 70.10v9M272.78 72.84h9M277.28 68.34v9M282.54 71.64h9M287.04 67.14v9M292.30 71.14h9M296.80 66.64v9M302.06 70.22h9M306.56 65.72v9M311.82 69.46h9M316.32 64.96v9M321.58 68.86h9M326.08 64.36v9M331.34 68.41h9M335.84 63.91v9M341.10 68.13h9M345.60 63.63v9M140.20 37.44h9M144.70 32.94v9M149.96 42.19h9M154.46 37.69v9M159.72 46.97h9M164.22 42.47v9M169.48 51.77h9M173.98 47.27v9M179.24 56.60h9M183.74 52.10v9M189.00 62.42h9M193.50 57.92v9M198.76 68.81h9M203.26 64.31v9M208.52 70.70h9M213.02 66.20v9M218.28 74.13h9M222.78 69.63v9M228.04 79.83h9M232.54 75.33v9M237.80 83.26h9M242.30 78.76v9M247.56 82.87h9M252.06 78.37v9M257.32 80.97h9M261.82 76.47v9M267.08 79.82h9M271.58 75.32v9M276.84 77.91h9M281.34 73.41v9M286.60 76.51h9M291.10 72.01v9M296.36 75.94h9M300.86 71.44v9M306.12 75.18h9M310.62 70.68v9M315.88 74.59h9M320.38 70.09v9M325.64 74.15h9M330.14 69.65v9M335.40 73.88h9M339.90 69.38v9M134.50 43.25h9M139.00 38.75v9M144.26 48.10h9M148.76 43.60v9M154.02 52.97h9M158.52 48.47v9M163.78 57.87h9M168.28 53.37v9M173.54 63.48h9M178.04 58.98v9M183.30 70.22h9M187.80 65.72v9M193.06 74.41h9M197.56 69.91v9M202.82 77.07h9M207.32 72.57v9M212.58 82.78h9M217.08 78.28v9M222.34 87.72h9M226.84 83.22v9M232.10 91.14h9M236.60 86.64v9M241.86 90.00h9M246.36 85.50v9M251.62 87.33h9M256.12 82.83v9M261.38 86.19h9M265.88 81.69v9M271.14 85.80h9M275.64 81.30v9M280.90 83.13h9M285.40 78.63v9M290.66 81.36h9M295.16 76.86v9M300.42 80.71h9M304.92 76.21v9M310.18 80.13h9M314.68 75.63v9M319.94 79.70h9M324.44 75.20v9M329.70 79.43h9M334.20 74.93v9M128.80 50.72h9M133.30 46.22v9M138.56 54.00h9M143.06 49.50v9M148.32 58.97h9M152.82 54.47v9M158.08 63.84h9M162.58 59.34v9M167.84 70.12h9M172.34 65.62v9M177.60 76.59h9M182.10 72.09v9M187.36 81.54h9M191.86 77.04v9M197.12 84.20h9M201.62 79.70v9M206.88 89.14h9M211.38 84.64v9M216.64 93.33h9M221.14 88.83v9M226.40 97.51h9M230.90 93.01v9M236.16 97.13h9M240.66 92.63v9M245.92 95.22h9M250.42 90.72v9M255.68 92.55h9M260.18 88.05v9M265.44 93.69h9M269.94 89.19v9M275.20 90.26h9M279.70 85.76v9M284.96 86.80h9M289.46 82.30v9M294.72 85.90h9M299.22 81.40v9M304.48 85.46h9M308.98 80.96v9M314.24 85.05h9M318.74 80.55v9M324.00 84.78h9M328.50 80.28v9M123.10 55.57h9M127.60 51.07v9M132.86 59.90h9M137.36 55.40v9M142.62 65.31h9M147.12 60.81v9M152.38 70.02h9M156.88 65.52v9M162.14 75.73h9M166.64 71.23v9M171.90 80.67h9M176.40 76.17v9M181.66 86.38h9M186.16 81.88v9M191.42 92.08h9M195.92 87.58v9M201.18 96.27h9M205.68 91.77v9M210.94 101.21h9M215.44 96.71v9M220.70 107.30h9M225.20 102.80v9M230.46 105.01h9M234.96 100.51v9M240.22 103.11h9M244.72 98.61v9M249.98 102.72h9M254.48 98.22v9M259.74 100.82h9M264.24 96.32v9M269.50 97.39h9M274.00 92.89v9M279.26 95.48h9M283.76 90.98v9M289.02 91.52h9M293.52 87.02v9M298.78 90.42h9M303.28 85.92v9M308.54 90.19h9M313.04 85.69v9M318.30 89.94h9M322.80 85.44v9M117.40 60.03h9M121.90 55.53v9M127.16 65.47h9M131.66 60.97v9M136.92 70.84h9M141.42 66.34v9M146.68 76.39h9M151.18 71.89v9M156.44 81.33h9M160.94 76.83v9M166.20 87.04h9M170.70 82.54v9M175.96 91.98h9M180.46 87.48v9M185.72 97.69h9M190.22 93.19v9M195.48 103.39h9M199.98 98.89v9M205.24 110.24h9M209.74 105.74v9M215.00 115.57h9M219.50 111.07v9M224.76 114.04h9M229.26 109.54v9M234.52 110.23h9M239.02 105.73v9M244.28 108.33h9M248.78 103.83v9M254.04 107.94h9M258.54 103.44v9M263.80 103.75h9M268.30 99.25v9M273.56 101.09h9M278.06 96.59v9M283.32 99.94h9M287.82 95.44v9M293.08 95.93h9M297.58 91.43v9M302.84 94.93h9M307.34 90.43v9M312.60 94.90h9M317.10 90.40v9M111.70 64.49h9M116.20 59.99v9M121.46 70.58h9M125.96 66.08v9M131.22 75.52h9M135.72 71.02v9M140.98 80.47h9M145.48 75.97v9M150.74 85.41h9M155.24 80.91v9M160.50 91.12h9M165.00 86.62v9M170.26 96.82h9M174.76 92.32v9M180.02 101.77h9M184.52 97.27v9M189.78 109.00h9M194.28 104.50v9M199.54 116.99h9M204.04 112.49v9M209.30 126.50h9M213.80 122.00v9M219.06 120.79h9M223.56 116.29v9M228.82 116.60h9M233.32 112.10v9M238.58 113.17h9M243.08 108.67v9M248.34 112.02h9M252.84 107.52v9M258.10 109.36h9M262.60 104.86v9M267.86 107.45h9M272.36 102.95v9M277.62 106.31h9M282.12 101.81v9M287.38 103.64h9M291.88 99.14v9M297.14 100.21h9M301.64 95.71v9M306.90 99.83h9M311.40 95.33v9M106.00 64.38h9M110.50 59.88v9M115.76 69.82h9M120.26 65.32v9M125.52 75.10h9M130.02 70.60v9M135.28 82.64h9M139.78 78.14v9M145.04 87.59h9M149.54 83.09v9M154.80 92.53h9M159.30 88.03v9M164.56 97.48h9M169.06 92.98v9M174.32 103.19h9M178.82 98.69v9M184.08 109.18h9M188.58 104.68v9M193.84 116.60h9M198.34 112.10v9M203.60 122.21h9M208.10 117.71v9M213.36 120.40h9M217.86 115.90v9M223.12 116.78h9M227.62 112.28v9M232.88 114.59h9M237.38 110.09v9M242.64 113.44h9M247.14 108.94v9M252.40 110.01h9M256.90 105.51v9M262.16 107.34h9M266.66 102.84v9M271.92 106.20h9M276.42 101.70v9M281.68 102.63h9M286.18 98.13v9M291.44 101.35h9M295.94 96.85v9M301.20 100.26h9M305.70 95.76v9M100.30 64.09h9M104.80 59.59v9M110.06 69.14h9M114.56 64.64v9M119.82 73.33h9M124.32 68.83v9M129.58 78.04h9M134.08 73.54v9M139.34 83.68h9M143.84 79.18v9M149.10 90.15h9M153.60 85.65v9M158.86 96.61h9M163.36 92.11v9M168.62 102.32h9M173.12 97.82v9M178.38 107.26h9M182.88 102.76v9M188.14 112.78h9M192.64 108.28v9M197.90 120.01h9M202.40 115.51v9M207.66 116.58h9M212.16 112.08v9M217.42 114.86h9M221.92 110.36v9M227.18 113.72h9M231.68 109.22v9M236.94 111.81h9M241.44 107.31v9M246.70 107.62h9M251.20 103.12v9M256.46 106.48h9M260.96 101.98v9M266.22 104.25h9M270.72 99.75v9M275.98 102.44h9M280.48 97.94v9M285.74 101.53h9M290.24 97.03v9M295.50 100.80h9M300.00 96.30v9M94.60 66.55h9M99.10 62.05v9M104.36 70.11h9M108.86 65.61v9M114.12 73.84h9M118.62 69.34v9M123.88 78.28h9M128.38 73.78v9M133.64 83.35h9M138.14 78.85v9M143.40 89.66h9M147.90 85.16v9M153.16 95.37h9M157.66 90.87v9M162.92 100.31h9M167.42 95.81v9M172.68 106.78h9M177.18 102.28v9M182.44 112.48h9M186.94 107.98v9M192.20 115.72h9M196.70 111.22v9M201.96 115.52h9M206.46 111.02v9M211.72 115.14h9M216.22 110.64v9M221.48 113.23h9M225.98 108.73v9M231.24 110.56h9M235.74 106.06v9M241.00 108.66h9M245.50 104.16v9M250.76 106.54h9M255.26 102.04v9M260.52 105.12h9M265.02 100.62v9M270.28 103.66h9M274.78 99.16v9M280.04 103.08h9M284.54 98.58v9M289.80 102.46h9M294.30 97.96v9M88.90 67.63h9M93.40 63.13v9M98.66 71.10h9M103.16 66.60v9M108.42 74.74h9M112.92 70.24v9M118.18 78.55h9M122.68 74.05v9M127.94 83.24h9M132.44 78.74v9M137.70 88.05h9M142.20 83.55v9M147.46 94.12h9M151.96 89.62v9M157.22 98.30h9M161.72 93.80v9M166.98 104.77h9M171.48 100.27v9M176.74 112.00h9M181.24 107.50v9M186.50 116.18h9M191.00 111.68v9M196.26 116.56h9M200.76 112.06v9M206.02 115.41h9M210.52 110.91v9M215.78 112.75h9M220.28 108.25v9M225.54 110.08h9M230.04 105.58v9M235.30 108.06h9M239.80 103.56v9M245.06 106.72h9M249.56 102.22v9M254.82 105.52h9M259.32 101.02v9M264.58 105.08h9M269.08 100.58v9M274.34 104.60h9M278.84 100.10v9M284.10 104.10h9M288.60 99.60v9M83.20 68.73h9M87.70 64.23v9M92.96 72.11h9M97.46 67.61v9M102.72 75.66h9M107.22 71.16v9M112.48 79.38h9M116.98 74.88v9M122.24 83.26h9M126.74 78.76v9M132.00 88.21h9M136.50 83.71v9M141.76 93.63h9M146.26 89.13v9M151.52 97.05h9M156.02 92.55v9M161.28 103.52h9M165.78 99.02v9M171.04 111.51h9M175.54 107.01v9M180.80 115.69h9M185.30 111.19v9M190.56 116.07h9M195.06 111.57v9M200.32 114.93h9M204.82 110.43v9M210.08 112.26h9M214.58 107.76v9M219.84 109.41h9M224.34 104.91v9M229.60 108.16h9M234.10 103.66v9M239.36 107.11h9M243.86 102.61v9M249.12 106.80h9M253.62 102.30v9M258.88 106.47h9M263.38 101.97v9M268.64 106.10h9M273.14 101.60v9M278.40 105.71h9M282.90 101.21v9M77.50 69.28h9M82.00 64.78v9M87.26 73.14h9M91.76 68.64v9M97.02 76.60h9M101.52 72.10v9M106.78 80.22h9M111.28 75.72v9M116.54 84.02h9M121.04 79.52v9M126.30 87.98h9M130.80 83.48v9M136.06 92.26h9M140.56 87.76v9M145.82 97.47h9M150.32 92.97v9M155.58 103.80h9M160.08 99.30v9M165.34 108.74h9M169.84 104.24v9M175.10 113.69h9M179.60 109.19v9M184.86 113.30h9M189.36 108.80v9M194.62 112.16h9M199.12 107.66v9M204.38 110.00h9M208.88 105.50v9M214.14 108.82h9M218.64 104.32v9M223.90 108.43h9M228.40 103.93v9M233.66 108.26h9M238.16 103.76v9M243.42 108.06h9M247.92 103.56v9M253.18 107.84h9M257.68 103.34v9M262.94 107.59h9M267.44 103.09v9M272.70 106.73h9M277.20 102.23v9M71.80 69.85h9M76.30 65.35v9M81.56 73.62h9M86.06 69.12v9M91.32 77.55h9M95.82 73.05v9M101.08 81.09h9M105.58 76.59v9M110.84 84.79h9M115.34 80.29v9M120.60 88.67h9M125.10 84.17v9M130.36 92.71h9M134.86 88.21v9M140.12 97.23h9M144.62 92.73v9M149.88 102.18h9M154.38 97.68v9M159.64 107.49h9M164.14 102.99v9M169.40 113.20h9M173.90 108.70v9M179.16 112.82h9M183.66 108.32v9M188.92 110.42h9M193.42 105.92v9M198.68 109.63h9M203.18 105.13v9M208.44 109.47h9M212.94 104.97v9M218.20 109.44h9M222.70 104.94v9M227.96 109.39h9M232.46 104.89v9M237.72 109.30h9M242.22 104.80v9M247.48 109.19h9M251.98 104.69v9M257.24 108.47h9M261.74 103.97v9M267.00 107.73h9M271.50 103.23v9M66.10 70.43h9M70.60 65.93v9M75.86 74.11h9M80.36 69.61v9M85.62 77.96h9M90.12 73.46v9M95.38 81.97h9M99.88 77.47v9M105.14 85.58h9M109.64 81.08v9M114.90 89.37h9M119.40 84.87v9M124.66 93.32h9M129.16 88.82v9M134.42 97.44h9M138.92 92.94v9M144.18 101.90h9M148.68 97.40v9M153.94 107.20h9M158.44 102.70v9M163.70 111.19h9M168.20 106.69v9M173.46 110.98h9M177.96 106.48v9M183.22 110.27h9M187.72 105.77v9M192.98 110.25h9M197.48 105.75v9M202.74 110.35h9M207.24 105.85v9M212.50 110.43h9M217.00 105.93v9M222.26 110.49h9M226.76 105.99v9M232.02 110.51h9M236.52 106.01v9M241.78 109.94h9M246.28 105.44v9M251.54 109.34h9M256.04 104.84v9M261.30 108.71h9M265.80 104.21v9M60.40 71.04h9M64.90 66.54v9M70.16 74.62h9M74.66 70.12v9M79.92 78.38h9M84.42 73.88v9M89.68 82.30h9M94.18 77.80v9M99.44 86.40h9M103.94 81.90v9M109.20 90.09h9M113.70 85.59v9M118.96 93.95h9M123.46 89.45v9M128.72 97.98h9M133.22 93.48v9M138.48 102.17h9M142.98 97.67v9M148.24 106.87h9M152.74 102.37v9M158.00 110.70h9M162.50 106.20v9M167.76 110.75h9M172.26 106.25v9M177.52 110.74h9M182.02 106.24v9M187.28 110.99h9M191.78 106.49v9M197.04 111.21h9M201.54 106.71v9M206.80 111.40h9M211.30 106.90v9M216.56 111.57h9M221.06 107.07v9M226.32 111.13h9M230.82 106.63v9M236.08 110.67h9M240.58 106.17v9M245.84 110.18h9M250.34 105.68v9M255.60 109.66h9M260.10 105.16v9M54.70 71.66h9M59.20 67.16v9M64.46 75.15h9M68.96 70.65v9M74.22 78.82h9M78.72 74.32v9M83.98 82.65h9M88.48 78.15v9M93.74 86.65h9M98.24 82.15v9M103.50 90.82h9M108.00 86.32v9M113.26 94.59h9M117.76 90.09v9M123.02 98.53h9M127.52 94.03v9M132.78 102.64h9M137.28 98.14v9M142.54 106.91h9M147.04 102.41v9M152.30 110.98h9M156.80 106.48v9M162.06 110.97h9M166.56 106.47v9M171.82 111.36h9M176.32 106.86v9M181.58 111.72h9M186.08 107.22v9M191.34 112.05h9M195.84 107.55v9M201.10 112.35h9M205.60 107.85v9M210.86 112.05h9M215.36 107.55v9M220.62 111.73h9M225.12 107.23v9M230.38 111.38h9M234.88 106.88v9M240.14 111.00h9M244.64 106.50v9M249.90 110.59h9M254.40 106.09v9" fill="none" stroke="#9400d3" stroke-width="1.5"/>
</svg>
<svg id="t" width="685" height="260" viewBox="0 0 685 260" font-family="Liberation Sans, sans-serif" fill="#000">
<text x="0.30" y="34.90" font-size="13.50">correlation</text>
<text x="13.50" y="57.00" font-size="12.30">4x10</text>
<text x="42.50" y="50.60" font-size="9.80">6</text>
<text x="13.70" y="77.20" font-size="12.30">3x10</text>
<text x="42.50" y="71.40" font-size="9.80">6</text>
<text x="14.00" y="99.30" font-size="12.30">2x10</text>
<text x="42.50" y="93.40" font-size="9.80">6</text>
<text x="14.10" y="121.40" font-size="12.30">1x10</text>
<text x="42.50" y="115.00" font-size="9.80">6</text>
<text x="41.10" y="145.70" font-size="12.30">0</text>
<text x="49.00" y="194.50" font-size="12.30">-2</text>
<text x="98.00" y="203.50" font-size="12.30">-1</text>
<text x="151.20" y="212.90" font-size="12.30">0</text>
<text x="200.40" y="221.70" font-size="12.30">1</text>
<text x="249.30" y="232.60" font-size="12.30">2</text>
<text x="376.70" y="164.10" font-size="12.30">-2</text>
<text x="346.90" y="180.60" font-size="12.30">-1</text>
<text x="322.00" y="196.90" font-size="12.30">0</text>
<text x="293.90" y="212.80" font-size="12.30">1</text>
<text x="266.80" y="229.70" font-size="12.30">2</text>
<text x="107.80" y="228.40" font-size="12.70">x [m]</text>
<text x="362.00" y="206.20" font-size="12.80">y [m]</text>
<text x="418.00" y="12.10" font-size="10.90">-2</text>
<text x="419.10" y="58.20" font-size="10.90">-1</text>
<text x="422.20" y="103.80" font-size="10.90">0</text>
<text x="423.70" y="150.00" font-size="10.90">1</text>
<text x="423.10" y="196.20" font-size="10.90">2</text>
<text x="431.10" y="214.80" font-size="10.90">-2</text>
<text x="477.80" y="214.80" font-size="10.90">-1</text>
<text x="528.30" y="215.00" font-size="10.90">0</text>
<text x="574.20" y="214.80" font-size="10.90">1</text>
<text x="620.80" y="214.80" font-size="10.90">2</text>
<text x="517.90" y="233.80" font-size="10.59">x [m]</text>
<text transform="translate(418.10 110.30) rotate(-90)" font-size="10.90">y [m]</text>
<text x="645.60" y="196.90" font-size="10.90">0</text>
<text x="646.10" y="170.70" font-size="10.90">500000</text>
<text x="137.40" y="257.00" font-size="14.30" font-family="Liberation Serif" font-weight="bold">(a)</text>
<text x="159.30" y="257.00" font-size="13.30">Distribution plot</text>
<text x="490.90" y="257.00" font-size="14.30" font-family="Liberation Serif" font-weight="bold">(b)</text>
<text x="512.90" y="257.00" font-size="13.47">Colormap</text>
<text x="644.40" y="142.30" font-size="10.90">1x10</text>
<text x="668.00" y="136.90" font-size="8.60">6</text>
<text x="645.30" y="116.00" font-size="10.90">1.5x10</text>
<text x="678.20" y="110.60" font-size="8.60">6</text>
<text x="645.30" y="89.50" font-size="10.90">2x10</text>
<text x="669.60" y="84.10" font-size="8.60">6</text>
<text x="645.30" y="63.00" font-size="10.90">2.5x10</text>
<text x="678.20" y="57.60" font-size="8.60">6</text>
<text x="645.30" y="36.70" font-size="10.90">3x10</text>
<text x="669.60" y="31.70" font-size="8.60">6</text>
<text x="645.30" y="11.50" font-size="10.90">3.5x10</text>
<text x="678.20" y="6.80" font-size="8.60">6</text>
</svg>
</body></html>
